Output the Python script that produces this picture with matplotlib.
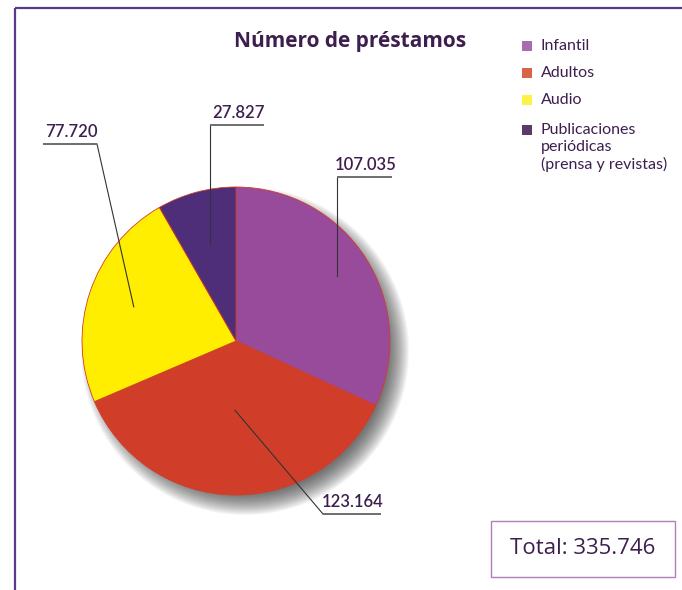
import numpy as np
import matplotlib.pyplot as plt
from matplotlib.patches import Circle, Rectangle

# data
categories = ['Infantil', 'Adultos', 'Audio', 'Publicaciones\nperiódicas\n(prensa y revistas)']
values = [107035, 123164, 77720, 27827]
value_labels = ['107.035', '123.164', '77.720', '27.827']
total_label = 'Total: 335.746'
title = 'Número de préstamos'

pie_colors = ['#984a9b', '#d03e2a', '#ffee00', '#4e2e78']
legend_colors = ['#a86bb0', '#d9644a', '#fff04a', '#5a3a6a']
txt_color = '#3d1f4f'

W, H = 682, 590


def Y(y):
    # image row -> axes coordinate (y up)
    return H - y


narrow = ['Lato', 'DejaVu Sans']

fig = plt.figure(figsize=(W / 100, H / 100), dpi=100)
ax = fig.add_axes([0, 0, 1, 1])

cx, cy, r = 236, Y(341), 154

# soft shadow bottom-right
for k in range(22):
    ax.add_patch(Circle((cx + 9, cy - 10), r + 10 - k, color='#2a2a2a', alpha=0.045, lw=0, zorder=1))

wedges, _ = ax.pie(values, colors=pie_colors, startangle=90, counterclock=False,
                   center=(cx, cy), radius=r, frame=True,
                   wedgeprops=dict(edgecolor='#d03e2a', linewidth=0.6))
for w in wedges:
    w.set_zorder(2)

ax.set_xlim(0, W)
ax.set_ylim(0, H)
ax.set_aspect('equal')
ax.axis('off')

# leader lines: anchor on the wedge, elbow, underline
anchor_frac = [0.78, 0.45, 0.70, 0.65]
elbows = [None, (323, Y(514)), (97, Y(144)), None]
elbow_y = [Y(177), None, None, Y(125)]
under = [(0, 55), (0, 58), (-54, 0), (0, 54)]
for i, w in enumerate(wedges):
    mid = np.deg2rad((w.theta1 + w.theta2) / 2)
    px = cx + anchor_frac[i] * r * np.cos(mid)
    py = cy + anchor_frac[i] * r * np.sin(mid)
    if elbows[i] is None:
        ex, ey = px, elbow_y[i]
    else:
        ex, ey = elbows[i]
    ax.plot([px, ex], [py, ey], color='#333333', lw=0.8, zorder=3)
    x0, x1 = ex + under[i][0], ex + under[i][1]
    ax.plot([x0, x1], [ey, ey], color='#6e6e6e', lw=1.4, zorder=3, solid_capstyle='butt')
    ax.text((x0 + x1) / 2 + 1, ey + 4, value_labels[i], ha='center', va='bottom',
            fontsize=12, fontweight='semibold', color=txt_color, family=narrow)

# title
ax.text(350, Y(42), title, ha='center', va='center', fontsize=15, fontweight='bold',
        color=txt_color, family=['Open Sans', 'DejaVu Sans'])

# legend
leg_y = [46, 73, 100, 130]
for i, lab in enumerate(categories):
    ax.add_patch(Rectangle((522, Y(leg_y[i]) - 5), 10, 10, color=legend_colors[i], lw=0))
    ax.text(541, Y(leg_y[i]) + 7, lab, ha='left', va='top', fontsize=11.5,
            color=txt_color, family=narrow, linespacing=1.25)

# total box
ax.add_patch(Rectangle((491, Y(577)), 184, 56, fill=False, edgecolor='#b27fb8', lw=1))
ax.text(583, Y(549), total_label, ha='center', va='center', fontsize=16,
        color=txt_color, family=['Open Sans', 'DejaVu Sans'])

# frame lines
ax.plot([15, W], [Y(8), Y(8)], color='#5b3a8a', lw=1.6, solid_capstyle='butt')
ax.plot([15, 15], [Y(8), 0], color='#5b3a8a', lw=1.6, solid_capstyle='butt')

fig.savefig('out.png', dpi=100)
